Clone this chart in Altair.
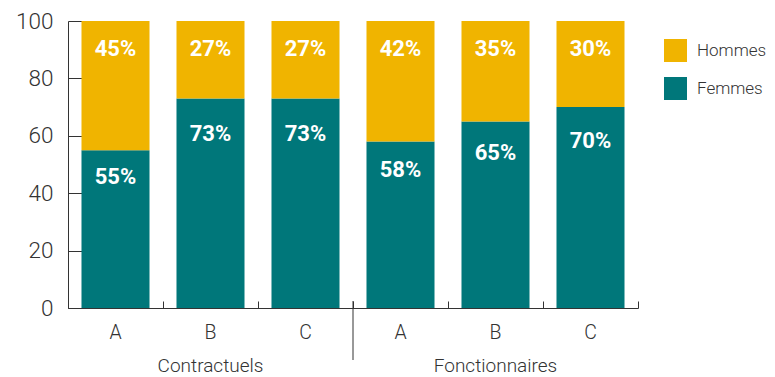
import altair as alt
import pandas as pd

groupes = ["Contractuels", "Contractuels", "Contractuels",
           "Fonctionnaires", "Fonctionnaires", "Fonctionnaires"]
categories = ["A", "B", "C", "A", "B", "C"]
femmes = [55, 73, 73, 58, 65, 70]
hommes = [45, 27, 27, 42, 35, 30]
series = ["Hommes", "Femmes"]
colors = ["#F0B400", "#00777A"]
y_ticks = [0, 20, 40, 60, 80, 100]

keys = [f"{g}|{c}" for g, c in zip(groupes, categories)]

rows = []
for k, f, h in zip(keys, femmes, hommes):
    rows.append({"key": k, "sexe": "Femmes", "value": f, "ord": 0, "label": f"{f}%"})
    rows.append({"key": k, "sexe": "Hommes", "value": h, "ord": 1, "label": f"{h}%"})
df = pd.DataFrame(rows)

group_names = ["Contractuels", "Fonctionnaires"]
grp_df = pd.DataFrame({"groupe": group_names,
                       "key": [keys[1], keys[4]]})
sep_df = pd.DataFrame({"key": [keys[3]]})

W, H = 570, 287
FONT = "Roboto"
AX = "#333333"

xscale = alt.Scale(domain=keys, paddingInner=0, paddingOuter=0)
yscale = alt.Scale(domain=[0, 100], nice=False)

bars = alt.Chart(df).mark_bar(width=alt.RelativeBandSize(0.716)).encode(
    x=alt.X("key:N", scale=xscale, sort=keys,
            axis=alt.Axis(orient="bottom", title=None, labelAngle=0,
                          labelExpr="split(datum.label,'|')[1]",
                          ticks=False, tickSize=0, domainColor=AX,
                          labelFontSize=19.5, labelColor=AX, labelFont=FONT,
                          labelFontWeight=300, labelPadding=15)),
    y=alt.Y("value:Q", stack="zero", scale=yscale,
            axis=alt.Axis(orient="left", title=None, values=y_ticks,
                          ticks=False, tickSize=0, grid=False, domainColor=AX,
                          labelFontSize=22.5, labelColor=AX, labelFont=FONT,
                          labelFontWeight=300, labelPadding=15)),
    color=alt.Color("sexe:N", scale=alt.Scale(domain=series, range=colors),
                    legend=alt.Legend(title=None, orient="none", legendX=596,
                                      legendY=18, symbolType="square",
                                      symbolSize=529, symbolStrokeWidth=0,
                                      symbolOpacity=1,
                                      labelFontSize=17, labelColor=AX,
                                      labelFont=FONT, labelFontWeight=300,
                                      rowPadding=15, labelOffset=10,
                                      padding=0)),
    order=alt.Order("ord:Q"),
)

# Femmes labels (carry the tick-only secondary axes)
text_f = alt.Chart(df).transform_filter(
    "datum.sexe == 'Femmes'"
).transform_calculate(
    pos="datum.value * 0.83"
).mark_text(color="white", fontWeight="bold", fontSize=22, font=FONT,
            baseline="middle").encode(
    x=alt.X("key:N", scale=xscale, sort=keys,
            axis=alt.Axis(orient="top", offset=-H, labels=False, domain=False,
                          ticks=True, tickBand="extent", tickSize=7,
                          tickColor=AX, title=None)),
    y=alt.Y("pos:Q", scale=yscale,
            axis=alt.Axis(orient="right", offset=-W, labels=False,
                          domain=False, ticks=True, tickSize=15,
                          tickColor=AX, values=y_ticks, grid=False,
                          title=None)),
    text="label:N",
)

# Hommes labels: near top of bar
text_h = alt.Chart(df).transform_filter(
    "datum.sexe == 'Hommes'"
).transform_calculate(
    pos="100"
).mark_text(color="white", fontWeight="bold", fontSize=22, font=FONT,
            baseline="middle", dy=28).encode(
    x=alt.X("key:N", scale=xscale, sort=keys, axis=None),
    y=alt.Y("pos:Q", scale=yscale, axis=None),
    text="label:N",
)

sep = alt.Chart(sep_df).mark_rule(color=AX, strokeWidth=1).encode(
    x=alt.X("key:N", scale=xscale, sort=keys, bandPosition=0, axis=None),
    y=alt.value(H - 7),
    y2=alt.value(H + 52),
)

grp = alt.Chart(grp_df).mark_text(fontSize=19, color=AX, font=FONT,
                                  fontWeight=300, baseline="middle").encode(
    x=alt.X("key:N", scale=xscale, sort=keys, axis=None),
    y=alt.value(H + 58),
    text="groupe:N",
)

chart = alt.layer(bars, text_f, text_h, sep, grp).resolve_scale(
    x="independent", y="independent"
).properties(
    width=W, height=H,
    autosize=alt.AutoSizeParams(type="none"),
    padding={"left": 60, "top": 13, "right": 129, "bottom": 68},
).configure_view(stroke=None)

chart.save("out.html", embed_options={"renderer": "svg", "actions": False})
